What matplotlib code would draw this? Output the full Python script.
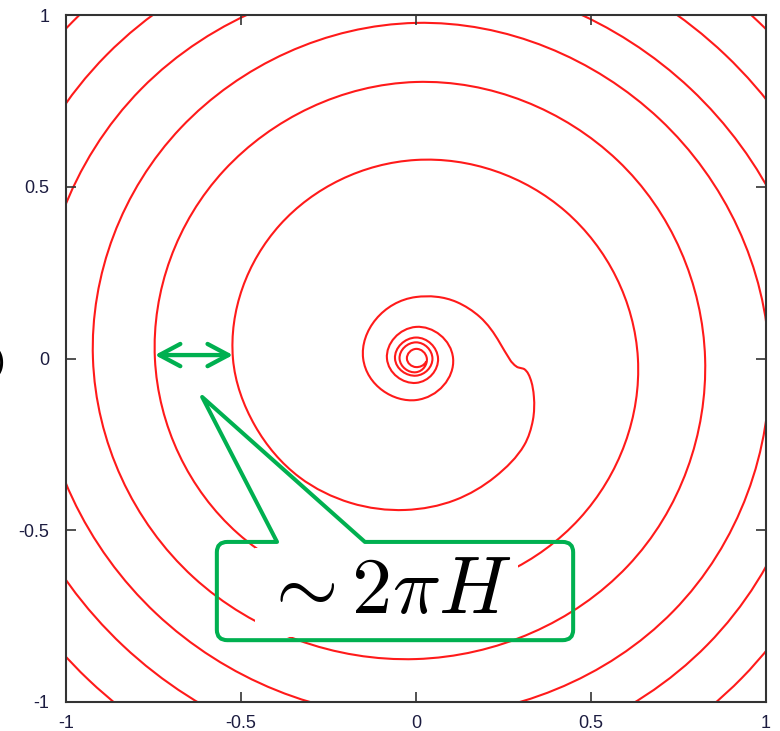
import numpy as np
import matplotlib
matplotlib.use("Agg")
import matplotlib.pyplot as plt
from matplotlib.path import Path
from matplotlib.patches import PathPatch, FancyArrowPatch

# spiral as (angle in degrees, radius) samples, angle decreasing = clockwise.
# tight curl near the centre, the kinked first loop, then the wide turns
spiral_angle = [700, 630, 540, 450, 360, 270, 180, 90, 0, -90, -180, -270, -360,
                -450, -540, -630, -720, -810, -900, -990,
                -1025.5, -1046.5, -1069.4, -1080.9, -1084.9, -1085.7, -1089.9,
                -1098.4, -1108.2, -1119.2, -1136.8, -1154.9, -1174, -1194, -1214,
                -1237, -1260,
                -1305, -1350, -1395, -1440, -1485, -1530, -1575, -1620,
                -1665, -1710, -1755, -1800, -1845, -1890, -1935, -1980,
                -2025, -2070, -2115, -2160, -2205, -2250, -2295, -2340,
                -2385, -2430, -2475, -2520, -2565, -2610, -2655, -2700,
                -2745, -2790, -2835, -2880, -2925, -2970, -3015, -3060,
                -3105, -3150, -3195, -3240]
spiral_radius = [0.030, 0.025, 0.026, 0.028, 0.031, 0.040, 0.047, 0.047, 0.047,
                 0.050, 0.060, 0.061, 0.063, 0.071, 0.083, 0.092, 0.106, 0.121,
                 0.151, 0.179,
                 0.2015, 0.219, 0.244, 0.269, 0.290, 0.311, 0.331,
                 0.355, 0.379, 0.399, 0.412, 0.427, 0.442, 0.460, 0.480,
                 0.500, 0.523,
                 0.550, 0.578, 0.605, 0.634, 0.660, 0.690, 0.720, 0.746,
                 0.775, 0.805, 0.815, 0.826, 0.855, 0.875, 0.900, 0.923,
                 0.950, 0.977, 0.985, 1.010, 1.040, 1.045, 1.050, 1.080,
                 1.110, 1.110, 1.110, 1.145, 1.178, 1.180, 1.183, 1.220,
                 1.250, 1.250, 1.250, 1.280, 1.316, 1.320, 1.323, 1.355,
                 1.387, 1.387, 1.385, 1.420]

tick_values = [-1, -0.5, 0, 0.5, 1]
tick_labels = ["-1", "-0.5", "0", "0.5", "1"]

# callout: rounded box with a wedge pointing at the gap between two turns
box_left, box_right = -0.569, 0.449
box_bottom, box_top = -0.820, -0.534
wedge_base = (-0.397, -0.146)
wedge_tip = (-0.611, -0.112)
gap_ends = (-0.746, -0.523)
gap_y = 0.010
callout_text = r"$\sim 2\pi H$"
text_pos = (-0.085, -0.680)

RED = "#ff1a1a"
GREEN = "#00b050"


def polar_spiral_path(angle_deg, radius):
    """Smooth cubic path through polar samples, tangents taken along the spiral."""
    th = np.radians(angle_deg)
    r = np.asarray(radius, float)
    n = len(th)
    dr = np.empty(n)
    dr[1:-1] = (r[2:] - r[:-2]) / (th[2:] - th[:-2])
    dr[0] = (r[1] - r[0]) / (th[1] - th[0])
    dr[-1] = (r[-1] - r[-2]) / (th[-1] - th[-2])
    px, py = r * np.cos(th), r * np.sin(th)
    tx = dr * np.cos(th) - r * np.sin(th)
    ty = dr * np.sin(th) + r * np.cos(th)
    verts = [(px[0], py[0])]
    codes = [Path.MOVETO]
    for i in range(n - 1):
        h = (th[i + 1] - th[i]) / 3
        verts += [(px[i] + tx[i] * h, py[i] + ty[i] * h),
                  (px[i + 1] - tx[i + 1] * h, py[i + 1] - ty[i + 1] * h),
                  (px[i + 1], py[i + 1])]
        codes += [Path.CURVE4] * 3
    return Path(verts, codes)


def callout_path(x0, x1, y0, y1, base, tip, rx=0.03, ry=0.03):
    verts = [(base[0], y1), tip, (base[1], y1),
             (x1 - rx, y1), (x1, y1), (x1, y1 - ry),
             (x1, y0 + ry), (x1, y0), (x1 - rx, y0),
             (x0 + rx, y0), (x0, y0), (x0, y0 + ry),
             (x0, y1 - ry), (x0, y1), (x0 + rx, y1),
             (base[0], y1), (base[0], y1)]
    codes = [Path.MOVETO, Path.LINETO, Path.LINETO,
             Path.LINETO, Path.CURVE3, Path.CURVE3,
             Path.LINETO, Path.CURVE3, Path.CURVE3,
             Path.LINETO, Path.CURVE3, Path.CURVE3,
             Path.LINETO, Path.CURVE3, Path.CURVE3,
             Path.LINETO, Path.CLOSEPOLY]
    return Path(verts, codes)


plt.rcParams["font.family"] = ["Liberation Sans", "DejaVu Sans"]
plt.rcParams["mathtext.fontset"] = "cm"

fig = plt.figure(figsize=(7.8, 7.31), dpi=100)
ax = fig.add_axes([66 / 780, 1 - 702 / 731, 700 / 780, 687 / 731])

ax.add_patch(PathPatch(polar_spiral_path(spiral_angle, spiral_radius),
                       facecolor="none", edgecolor=RED, lw=1.5,
                       capstyle="round", joinstyle="round"))

# outline only; the formula itself sits on a white patch
ax.add_patch(PathPatch(callout_path(box_left, box_right, box_bottom, box_top,
                                    wedge_base, wedge_tip),
                       facecolor="none", edgecolor=GREEN, lw=2.9,
                       joinstyle="round", zorder=4))
ax.text(text_pos[0], text_pos[1], callout_text, fontsize=58, ha="center",
        va="center", zorder=3,
        bbox=dict(boxstyle="square,pad=0.08", facecolor="white", edgecolor="none"))

ax.add_patch(FancyArrowPatch((gap_ends[0], gap_y), (gap_ends[1], gap_y),
                             arrowstyle="<->,head_length=15,head_width=8",
                             mutation_scale=1, color=GREEN, lw=3.1,
                             capstyle="round", joinstyle="round",
                             shrinkA=0, shrinkB=0, zorder=4))

ax.set_xlim(-1, 1)
ax.set_ylim(-1, 1)
ax.set_xticks(tick_values)
ax.set_xticklabels(tick_labels)
ax.set_yticks(tick_values)
ax.set_yticklabels(tick_labels)
ax.tick_params(direction="in", length=7, width=1.2, colors="#333333",
               labelcolor="#1c1c40", labelsize=13, top=True, right=True)
ax.tick_params(axis="x", pad=9)
ax.tick_params(axis="y", pad=12)
for sp in ax.spines.values():
    sp.set_color("#333333")
    sp.set_linewidth(1.5)

# clipped end of a label sitting just left of the frame
fig.text(0.006, 1 - 363 / 731, ")", fontsize=24, ha="right", va="center")

fig.savefig("out.png", dpi=100)
